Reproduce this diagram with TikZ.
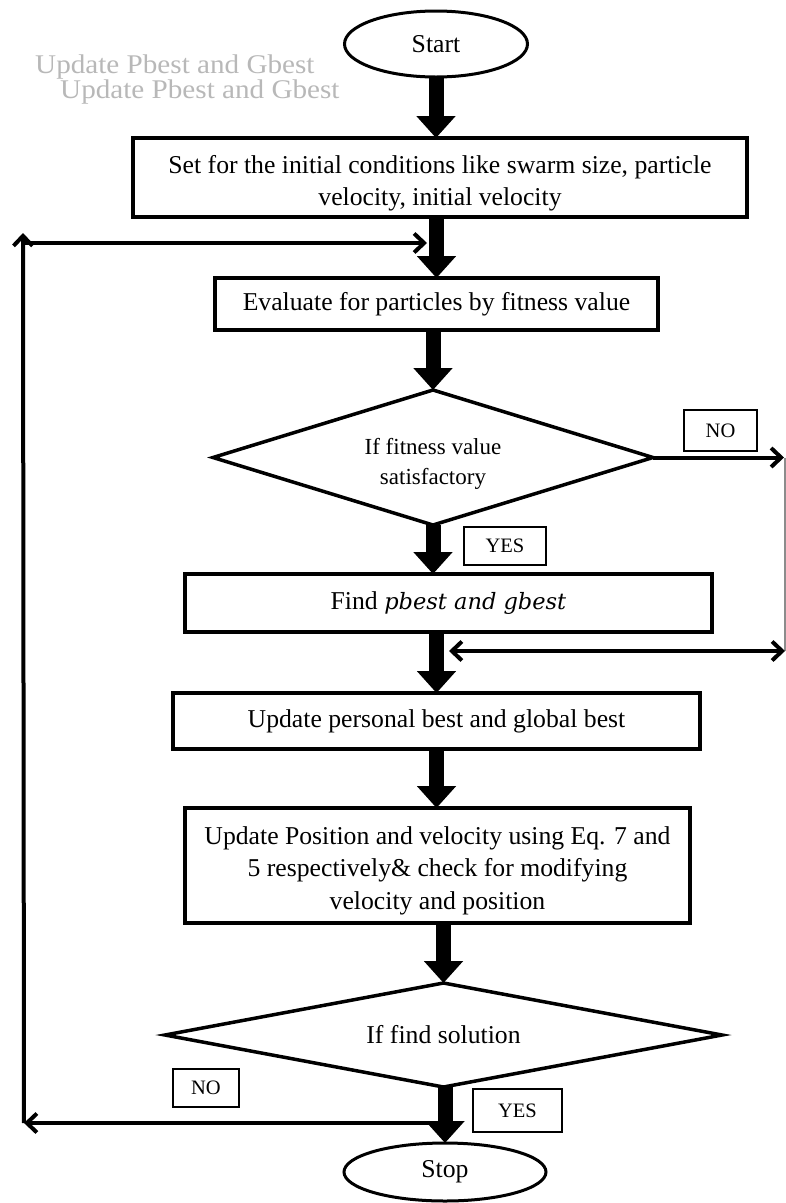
\documentclass[tikz,border=0pt]{standalone}
\usepackage{fontspec}
\setmainfont{Liberation Serif}
\newfontfamily\mitfont{DejaVu Serif}
\newfontfamily\ghostfont{Liberation Serif}[FakeStretch=1.08]
\newcommand\tgap[1]{\rule{0pt}{#1}}
\usetikzlibrary{shapes.geometric,arrows.meta}
\tikzset{
  box/.style={draw, line width=3.5pt, inner sep=0pt, outer sep=0pt, align=center,
    font=\fontsize{25.7}{32.5}\selectfont},
  term/.style={ellipse, draw, line width=3pt, inner sep=0pt, outer sep=0pt,
    font=\fontsize{25.7}{30}\selectfont},
  dec/.style={diamond, draw, line width=3.5pt, inner sep=0pt, outer sep=0pt, align=center},
  lab/.style={draw, line width=1.8pt, inner sep=0pt, outer sep=0pt,
    font=\fontsize{20.5}{24}\selectfont},
  ghost/.style={text=black!28, inner sep=0pt, font=\ghostfont\fontsize{27}{30}\selectfont},
  bigarrow/.style={line width=15pt, -{Triangle[width=38pt,length=22pt]}},
  thinarrow/.style={line width=4pt, -{Straight Barb[length=10pt,width=19pt,line width=4pt]}},
  thinboth/.style={line width=4pt, {Straight Barb[length=10pt,width=19pt,line width=4pt]}-{Straight Barb[length=10pt,width=19pt,line width=4pt]}}
}
\begin{document}
\begin{tikzpicture}[x=1pt,y=-1pt]
\useasboundingbox (0,0) rectangle (786,1203);

% ghost text
\node[ghost, anchor=base west] (g1) at (35,73) {Update Pbest and Gbest};
\node[ghost, anchor=base west] (g2) at (60,98) {Update Pbest and Gbest};

% main nodes
\node[term, minimum width=183pt, minimum height=66pt] (start) at (436,44) {Start};
\node[box, minimum width=614pt, minimum height=79pt] (box1) at (440,177.5)
  {\tgap{30pt}Set for the initial conditions like swarm size, particle\\velocity, initial velocity};
\node[box, minimum width=443pt, minimum height=52pt] (box2) at (436.5,304)
  {Evaluate for particles by fitness value};
\node[dec, aspect=3.2, minimum width=440pt, minimum height=135pt,
  font=\fontsize{23}{30}\selectfont] (d1) at (433,457.5)
  {\tgap{28pt}If fitness value\\satisfactory};
\node[box, minimum width=527pt, minimum height=58pt] (box3) at (448.5,603)
  {Find {\mitfont\itshape\fontsize{22.5}{30}\selectfont pbest and gbest}};
\node[box, minimum width=527pt, minimum height=56pt] (box4) at (436.5,721)
  {Update personal best and global best};
\node[box, minimum width=505pt, minimum height=115pt] (box5) at (437.5,865.5)
  {\tgap{28pt}Update Position and velocity using Eq. 7 and\\5 respectively\& check for modifying\\velocity and position};
\node[dec, aspect=5.3, minimum width=557pt, minimum height=104pt,
  font=\fontsize{25.7}{30}\selectfont] (d2) at (443.5,1035)
  {If find solution};
\node[term, minimum width=202pt, minimum height=58pt] (stop) at (445,1172) {Stop};

% labels
\node[lab, minimum width=73pt, minimum height=41pt] (no1) at (720.5,430.5) {NO};
\node[lab, minimum width=82pt, minimum height=38pt] (yes1) at (505,546) {YES};
\node[lab, minimum width=66pt, minimum height=38pt] (no2) at (206,1088) {NO};
\node[lab, minimum width=89pt, minimum height=43pt] (yes2) at (517.5,1110.5) {YES};

% main flow arrows
\draw[bigarrow] (start.south) -- (start.south |- box1.north);
\draw[bigarrow] (box2.north |- box1.south) -- (box2.north);
\draw[bigarrow] (d1.north |- box2.south) -- (d1.north);
\draw[bigarrow] (d1.south) -- (d1.south |- box3.north);
\draw[bigarrow] (box4.north |- box3.south) -- (box4.north);
\draw[bigarrow] (box4.south) -- (box4.south |- box5.north);
\draw[bigarrow] (d2.north |- box5.south) -- (d2.north);
\draw[bigarrow] (stop.north |- d2.south) -- (stop.north);

% right loop (NO of first decision)
\coordinate (rTop) at (784,457.5);
\coordinate (rTopL) at (785,457.5);
\coordinate (rBot) at (785,651);
\coordinate (rIn) at (449,651);
\draw[thinarrow] (d1.east) -- (rTop);
\draw[black!45, line width=1.5pt] (rTopL) -- (rBot);
\draw[thinboth] (rIn) -- (rBot);

% left loop (NO of second decision)
\coordinate (lJoin) at (445,1123);
\coordinate (lBL) at (24,1123);
\coordinate (lTL) at (23,233);
\coordinate (lCorner) at (23,243);
\coordinate (lIn) at (427,243);
\draw[thinarrow] (lJoin) -- (lBL);
\draw[line width=4pt] (lBL) -- (lCorner);
\draw[thinarrow] (lCorner) -- (lTL);
\draw[thinarrow] (lCorner) -- (lIn);
\end{tikzpicture}
\end{document}
